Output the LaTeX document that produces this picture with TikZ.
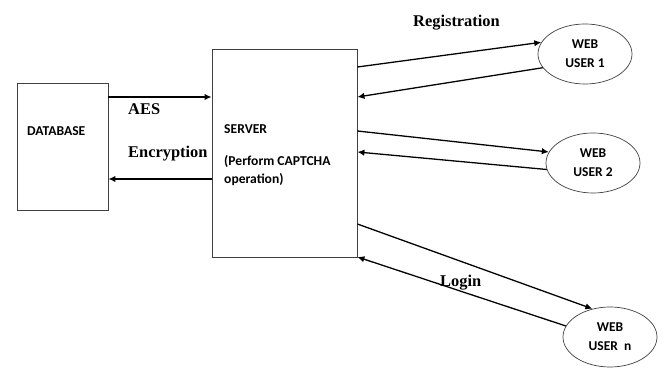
\documentclass[tikz,border=0pt]{standalone}
\usepackage{fontspec}
\setmainfont{Liberation Serif}
\setsansfont{Carlito}
\usetikzlibrary{arrows.meta,shapes.geometric}

\begin{document}
\begin{tikzpicture}[
  x=0.03cm, y=-0.03cm,
  box/.style={draw=black!75, line width=0.7pt, inner sep=0pt},
  user/.style={draw=black!75, line width=0.6pt, ellipse, inner sep=0pt,
    minimum width=2.82cm, minimum height=1.80cm, align=center,
    font=\sffamily\bfseries\fontsize{11.5}{16.5}\selectfont},
  stxt/.style={inner sep=0pt, anchor=base west, font=\sffamily\bfseries\fontsize{11.6}{12}\selectfont},
  lbl/.style={inner sep=0pt, anchor=base west, font=\bfseries\fontsize{14}{16}\selectfont},
  flow/.style={line width=1.1pt, -{Latex[length=6pt,width=5.5pt]}}
]
\useasboundingbox (0,0) rectangle (664,376);

\node[box, minimum width=2.73cm, minimum height=3.81cm] (db) at (62.5,146.5) {};
\node[box, minimum width=4.35cm, minimum height=6.24cm] (srv) at (284.5,153) {};

\node[stxt] (dbname) at (27,136) {DATABASE};
\node[stxt] (srvname) at (224,134) {SERVER};
\node[stxt] (srvop1) at (224,166) {(Perform CAPTCHA};
\node[stxt] (srvop2) at (224,184) {operation)};

\node[user] (u1) at (585,54) {WEB\\USER 1};
\node[user] (u2) at (593,163) {WEB\\USER 2};
\node[user] (un) at (610,337) {WEB\\USER~~n};

\node[lbl] (aes) at (128,115) {AES};
\node[lbl] (enc) at (128,158) {Encryption};
\node[lbl] (reg) at (413,27) {Registration};
\node[lbl] (login) at (440,287) {Login};

% database <-> server
\draw[flow] (db.east |- 0,97) -- (srv.west |- 0,97);
\draw[flow] (srv.west |- 0,179) -- (db.east |- 0,179);

% server <-> web users
\draw[flow] (srv.east |- 0,67) -- (u1.165);
\draw[flow] (u1.198) -- (srv.east |- 0,97);
\draw[flow] (srv.east |- 0,131) -- (u2.166);
\draw[flow] (u2.188) -- (srv.east |- 0,152);
\draw[flow] (srv.east |- 0,224) -- (un.122);
\draw[flow] (un.166) -- (srv.east |- 0,257);

\end{tikzpicture}
\end{document}
